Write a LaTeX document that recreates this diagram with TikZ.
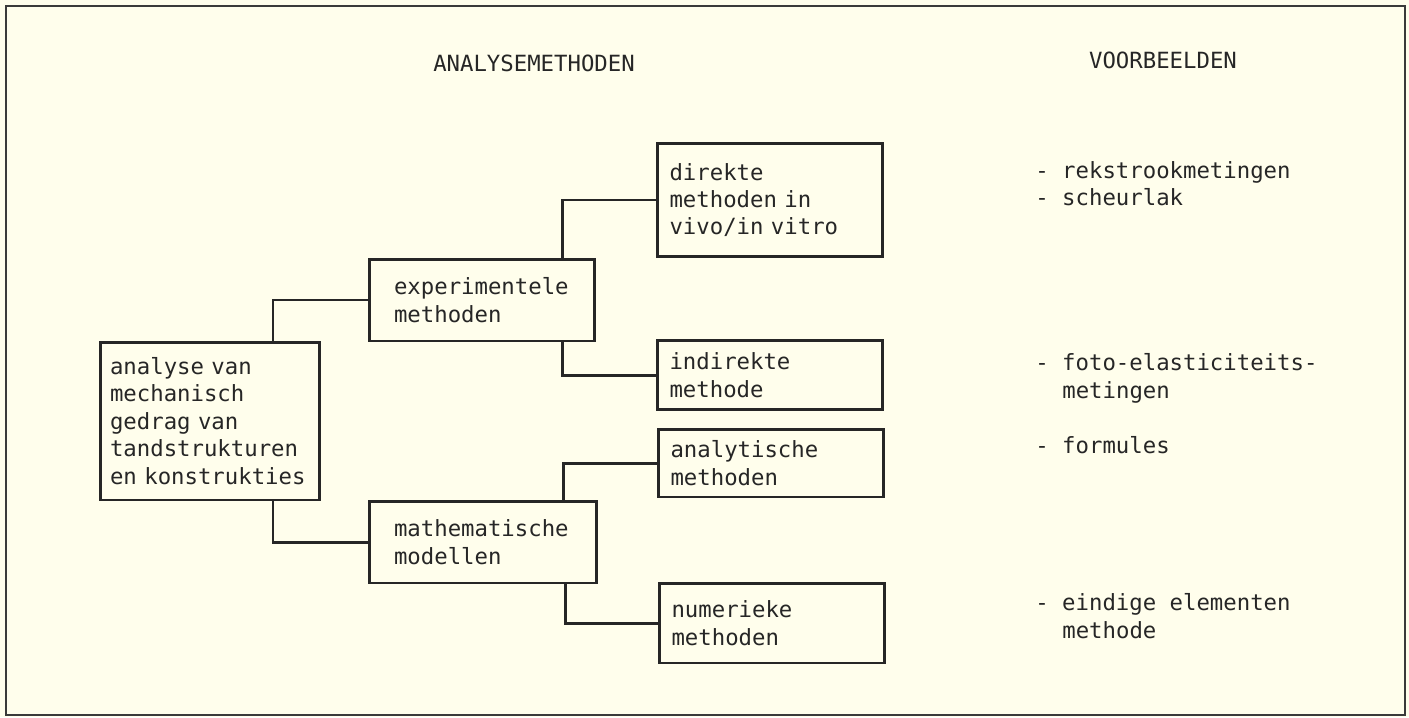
\documentclass[tikz,border=0pt]{standalone}
\usepackage{xcolor}
\usepackage{fontspec}
\usepackage{tikz}
\newfontfamily\typefont[WordSpace={1,0,0}]{DejaVu Sans Mono}
\definecolor{paper}{HTML}{FFFEEC}
\definecolor{ink}{HTML}{262626}
\definecolor{frame}{HTML}{3A3A3A}

\begin{document}
\begin{tikzpicture}[x=0.02cm, y=-0.02cm, text=ink,
        font=\typefont\fontsize{12.7pt}{15.6pt}\selectfont]
        \tikzstyle{blok}=[draw=ink,line width=1.7pt,align=left,inner xsep=0.24cm,inner ysep=0pt,text width=4.02cm]
        \tikzstyle{lijn}=[draw=ink,line width=1.7pt]

        % Draw the paper and the frame round it
        \path[fill=paper] (0,0) rectangle (1409,717);
        \useasboundingbox (0,0) rectangle (1409,717);
        \draw[frame, line width=1.2pt] (6,6) rectangle (1405,715);

        % Column headings
        \node[anchor=base, inner sep=0pt] (kop-1) at (534,71) {ANALYSEMETHODEN};
        \node[anchor=base, inner sep=0pt] (kop-2) at (1163,68) {VOORBEELDEN};

        % Draw the boxes
        \node[blok, inner xsep=0.2cm, text width=4.0cm, minimum height=3.16cm] (ana) at (210,421)
            {analyse van\\mechanisch\\gedrag van\\tandstrukturen\\en konstrukties};
        \node[blok, inner xsep=0.5cm, text width=3.52cm, minimum height=1.64cm] (exp) at (482,300)
            {experimentele\\methoden};
        \node[blok, inner xsep=0.5cm, text width=3.56cm, minimum height=1.64cm] (math) at (483,542)
            {mathematische\\modellen};
        \node[blok, minimum height=2.26cm] (dir) at (770,200) {direkte\\methoden in\\vivo/in vitro};
        \node[blok, minimum height=1.38cm] (ind) at (770,375) {indirekte\\methode};
        \node[blok, minimum height=1.36cm] (anl) at (771,463) {analytische\\methoden};
        \node[blok, minimum height=1.6cm] (num) at (772,623) {numerieke\\methoden};

        % Connect every box with the boxes it branches into
        \foreach \src/\side/\dest/\x in {ana/north/exp/273, ana/south/math/273, exp/north/dir/562,
                exp/south/ind/562, math/north/anl/563, math/south/num/565}
            \draw[lijn] (\src.\side -| \x,0) |- (\dest.west);

        % Draw the examples
        \foreach \txt/\x/\y [count=\i] in {{- rekstrookmetingen}/1035/178, {- scheurlak}/1035/205,
                {- foto-elasticiteits-}/1035/370, metingen/1062/398, {- formules}/1035/453,
                {- eindige elementen}/1035/610, methode/1062/638}
            \node[anchor=base west, inner sep=0pt] (vb-\i) at (\x,\y) {\txt};
    \end{tikzpicture}
\end{document}
